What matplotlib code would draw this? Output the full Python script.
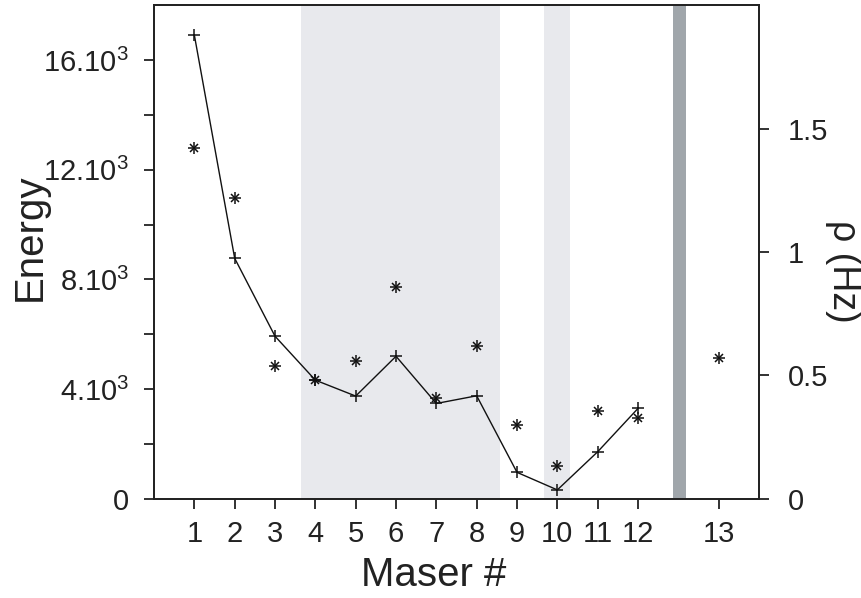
import numpy as np
import matplotlib
matplotlib.use("Agg")
import matplotlib.pyplot as plt

plt.rcParams['font.family'] = ['Liberation Sans', 'DejaVu Sans']
plt.rcParams['mathtext.fontset'] = 'custom'
plt.rcParams['mathtext.rm'] = 'Liberation Sans'
plt.rcParams['mathtext.it'] = 'Liberation Sans'

# data
maser_ids = [1, 2, 3, 4, 5, 6, 7, 8, 9, 10, 11, 12, 13]
energy = [16900, 8770, 5930, 4330, 3750, 5200, 3480, 3760, 970, 330, 1720, 3300]   # masers 1-12
rho = [1.42, 1.22, 0.54, 0.48, 0.56, 0.86, 0.41, 0.62, 0.30, 0.134, 0.356, 0.327, 0.572]

energy_ticks = [0, 2000, 4000, 6000, 8000, 10000, 12000, 14000, 16000]
energy_labels = ['0', '', '4.10$^{3}$', '', '8.10$^{3}$', '', '12.10$^{3}$', '', '16.10$^{3}$']
rho_ticks = [0, 0.5, 1, 1.5]
rho_labels = ['0', '0.5', '1', '1.5']

# maser 13 is drawn after a gap (separator bar)
pos = np.array([m if m <= 12 else m + 1 for m in maser_ids])

fig = plt.figure(figsize=(8.62, 5.98), dpi=100)
ax = fig.add_axes([0.1787, 0.1656, 0.7018, 0.8260])
ax2 = ax.twinx()

# shaded regions
ax.axvspan(3.64, 8.58, color='#e8e9ed', lw=0, zorder=0)
ax.axvspan(9.68, 10.32, color='#e8e9ed', lw=0, zorder=0)
ax.axvspan(12.88, 13.2, color='#a0a6ab', lw=0, zorder=0)

# energy line
ax.plot(pos[:len(energy)], energy, color='#111111', lw=1.0, marker='+',
        markersize=8, markeredgewidth=1.1, zorder=3)

# rho stars (asterisk = plus + cross)
ax2.plot(pos, rho, ls='none', marker='+', markersize=8, markeredgewidth=1.1, color='#111111', zorder=3)
ax2.plot(pos, rho, ls='none', marker='x', markersize=6, markeredgewidth=1.1, color='#111111', zorder=3)

ax.set_xlim(0, 15)
ax.set_ylim(0, 18000)
ax2.set_ylim(0, 2.0)

ax.set_xticks(pos)
ax.set_xticklabels([str(m) for m in maser_ids])
ax.set_yticks(energy_ticks)
ax.set_yticklabels(energy_labels)
ax2.set_yticks(rho_ticks)
ax2.set_yticklabels(rho_labels)

ax.tick_params(axis='both', direction='out', length=7, width=1.3, labelsize=21, colors='#222222')
ax.tick_params(axis='x', pad=8)
ax.tick_params(axis='y', pad=11)
ax2.tick_params(axis='y', direction='out', length=7, width=1.3, labelsize=21, pad=14, colors='#222222')

for a in (ax, ax2):
    for s in a.spines.values():
        s.set_linewidth(1.3)
        s.set_color('#222222')

ax.set_xlabel('Maser #', fontsize=29, color='#222222', va='center')
ax.set_ylabel('Energy', fontsize=29, color='#222222', va='center')
ax2.set_ylabel('ρ (Hz)', fontsize=27, color='#222222', rotation=270, va='center')
ax.xaxis.set_label_coords(0.462, -0.154)
ax.yaxis.set_label_coords(-0.205, 0.53)
ax2.yaxis.set_label_coords(1.139, 0.46)

fig.savefig('out.png', dpi=100)
